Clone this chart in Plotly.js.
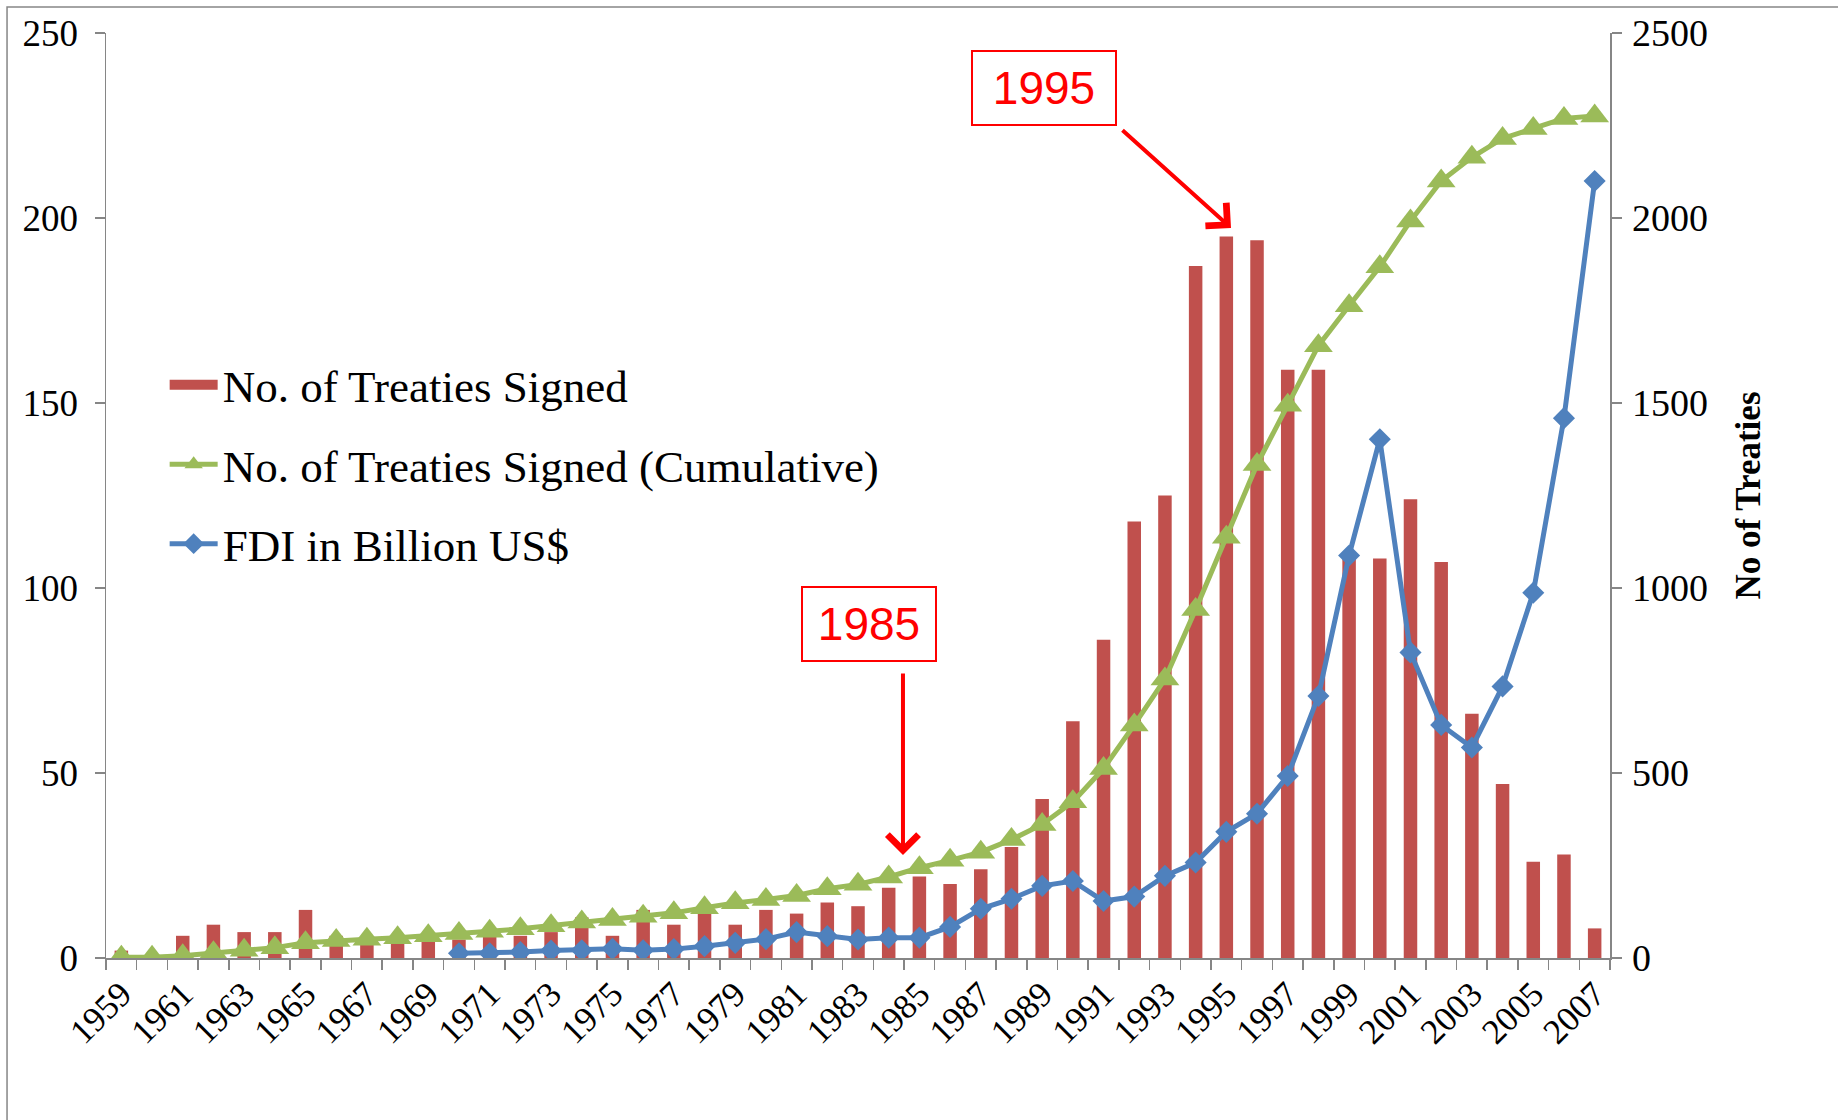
<!DOCTYPE html>
<html>
<head>
<meta charset="utf-8">
<script src="https://cdn.plot.ly/plotly-3.0.1.min.js"></script>
<style>
  html, body { margin: 0; padding: 0; background: #ffffff; }
  #chart { width: 1838px; height: 1120px; }
</style>
</head>
<body>
<div id="chart"></div>
<script>
// ---- Data ----
const years = ['1959','1960','1961','1962','1963','1964','1965','1966','1967','1968',
  '1969','1970','1971','1972','1973','1974','1975','1976','1977','1978',
  '1979','1980','1981','1982','1983','1984','1985','1986','1987','1988',
  '1989','1990','1991','1992','1993','1994','1995','1996','1997','1998',
  '1999','2000','2001','2002','2003','2004','2005','2006','2007'];

// No. of Treaties Signed (left axis)
const treatiesSigned = [2, 0, 6, 9, 7, 7, 13, 6, 4, 4,
  5, 5, 6, 6, 7, 11, 6, 13, 9, 12,
  9, 13, 12, 15, 14, 19, 22, 20, 24, 30,
  43, 64, 86, 118, 125, 187, 195, 194, 159, 159,
  108, 108, 124, 107, 66, 47, 26, 28, 8];

// No. of Treaties Signed (Cumulative) (right axis)
const treatiesCumulative = [2, 2, 6, 14, 21, 28, 41, 47, 51, 55,
  60, 66, 72, 79, 87, 97, 104, 113, 122, 136,
  149, 158, 169, 187, 199, 219, 244, 264, 286, 320,
  361, 422, 512, 630, 754, 942, 1137, 1334, 1494, 1655,
  1763, 1868, 1992, 2100, 2164, 2215, 2242, 2269, 2276];

// FDI in Billion US$ (right axis)
const fdiBillionUSD = [null, null, null, null, null, null, null, null, null, null,
  null, 13, 13, 16, 20, 21, 25, 21, 24, 32,
  41, 51, 70, 59, 50, 55, 55, 84, 133, 160,
  195, 208, 154, 166, 222, 258, 341, 390, 492, 708,
  1088, 1402, 826, 630, 569, 734, 987, 1459, 2100];

const seriesNames = ['No. of Treaties Signed', 'No. of Treaties Signed (Cumulative)', 'FDI in Billion US$'];
const annotationLabels = ['1995', '1985'];

// ---- Styling ----
const SERIF = 'Liberation Serif, Times New Roman, serif';
const SANS = 'Liberation Sans, Arial, sans-serif';
const AXIS_GRAY = '#868686';
const RED_BAR = '#C0504D';

const traces = [
  // legend entry for the bars (wide swatch, as in the original)
  {
    type: 'scatter', mode: 'lines', x: [null], y: [null], name: seriesNames[0],
    line: { color: RED_BAR, width: 22 }, legendgroup: 'g1', hoverinfo: 'skip'
  },
  {
    type: 'bar', x: years, y: treatiesSigned, name: seriesNames[0],
    marker: { color: RED_BAR }, legendgroup: 'g1', showlegend: false, hoverinfo: 'x+y'
  },
  {
    type: 'scatter', mode: 'lines+markers', x: years, y: treatiesCumulative, yaxis: 'y2',
    name: seriesNames[1], legendgroup: 'g2',
    line: { color: '#9BBB59', width: 5 },
    marker: { symbol: 'triangle-up', size: 25, color: '#9BBB59' }
  },
  {
    type: 'scatter', mode: 'lines+markers', x: years, y: fdiBillionUSD, yaxis: 'y2',
    name: seriesNames[2], legendgroup: 'g3', connectgaps: false,
    line: { color: '#4F81BD', width: 5 },
    marker: { symbol: 'diamond', size: 17, color: '#4F81BD' }
  }
];

const layout = {
  width: 1838, height: 1120,
  margin: { l: 106, r: 228, t: 33, b: 162, pad: 0 },
  paper_bgcolor: '#ffffff', plot_bgcolor: '#ffffff',
  font: { family: SERIF, color: '#000000', size: 34 },
  bargap: 0.56,
  showlegend: true,
  legend: {
    x: 0.039, y: 0.6585, xanchor: 'left', yanchor: 'top',
    font: { family: SERIF, size: 45, color: '#000000' },
    bgcolor: 'rgba(0,0,0,0)', borderwidth: 0,
    itemwidth: 48, tracegroupgap: 18, traceorder: 'grouped'
  },
  xaxis: {
    type: 'category', range: [-0.5, years.length - 0.5],
    tickmode: 'array', tickvals: years,
    ticktext: years.map((y, i) => (i % 2 === 0 ? y : '')),
    tickangle: -45, tickson: 'boundaries',
    ticks: 'outside', ticklen: 10, tickwidth: 1.5, tickcolor: AXIS_GRAY,
    showline: true, linecolor: AXIS_GRAY, linewidth: 1.5,
    showgrid: false, zeroline: false, automargin: false,
    tickfont: { family: SERIF, size: 35, color: '#000000' }
  },
  yaxis: {
    range: [0, 250], tickmode: 'linear', tick0: 0, dtick: 50,
    ticks: 'outside', ticklen: 10, tickwidth: 1.5, tickcolor: AXIS_GRAY,
    showline: true, linecolor: AXIS_GRAY, linewidth: 1.5,
    showgrid: false, zeroline: false, automargin: false,
    ticklabelstandoff: 9,
    tickfont: { family: SERIF, size: 37, color: '#000000' }
  },
  yaxis2: {
    overlaying: 'y', side: 'right',
    range: [0, 2500], tickmode: 'linear', tick0: 0, dtick: 500,
    ticks: 'outside', ticklen: 10, tickwidth: 1.5, tickcolor: AXIS_GRAY,
    showline: true, linecolor: AXIS_GRAY, linewidth: 1.5,
    showgrid: false, zeroline: false, automargin: false,
    ticklabelstandoff: 3,
    tickfont: { family: SERIF, size: 38, color: '#000000' },
    title: { text: '<b>No of Treaties</b>', font: { family: SERIF, size: 35, color: '#000000' }, standoff: 28 }
  },
  shapes: [
    { type: 'rect', xref: 'paper', yref: 'paper', x0: -0.0658, x1: 1.3, y0: -0.3, y1: 1.028,
      line: { color: AXIS_GRAY, width: 1.5 }, fillcolor: 'rgba(0,0,0,0)', layer: 'above' }
  ],
  annotations: [
    { xref: 'paper', yref: 'paper', x: 0.6237, y: 0.9405, xanchor: 'center', yanchor: 'middle',
      text: annotationLabels[0], showarrow: false,
      font: { family: SANS, size: 46, color: '#FF0000' },
      bordercolor: '#FF0000', borderwidth: 2, borderpad: 0, width: 142, height: 72 },
    { xref: 'paper', yref: 'paper', x: 0.5073, y: 0.3611, xanchor: 'center', yanchor: 'middle',
      text: annotationLabels[1], showarrow: false,
      font: { family: SANS, size: 46, color: '#FF0000' },
      bordercolor: '#FF0000', borderwidth: 2, borderpad: 0, width: 132, height: 72 },
    { xref: 'paper', yref: 'paper', x: 0.748, y: 0.7892, ax: -110, ay: -99,
      text: '', showarrow: true, arrowhead: 4, arrowsize: 1.5, arrowwidth: 4, arrowcolor: '#FF0000' },
    { xref: 'paper', yref: 'paper', x: 0.5299, y: 0.1114, ax: 0, ay: -183,
      text: '', showarrow: true, arrowhead: 4, arrowsize: 1.5, arrowwidth: 4, arrowcolor: '#FF0000' }
  ]
};

Plotly.newPlot('chart', traces, layout, { displayModeBar: false, staticPlot: true });
</script>
</body>
</html>
